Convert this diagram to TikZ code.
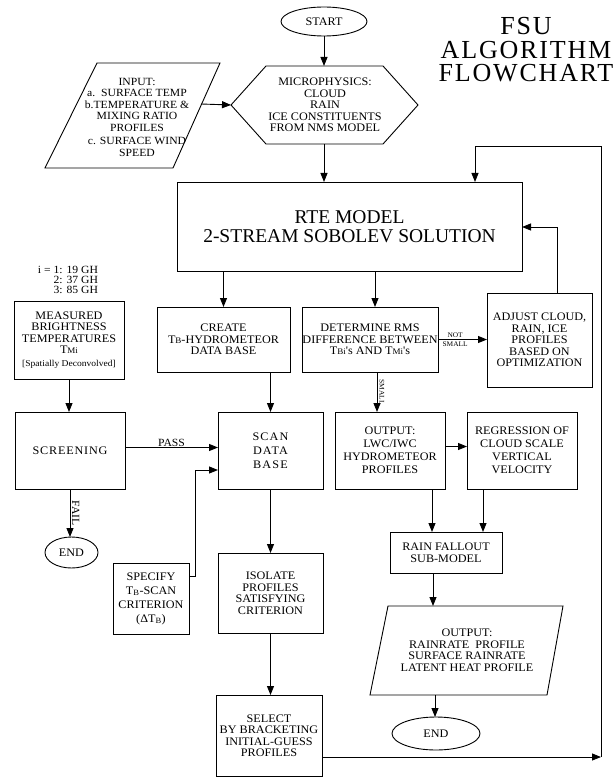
\documentclass[tikz,border=0pt]{standalone}
\usepackage{fontspec}
\setmainfont{Liberation Serif}
\newfontfamily\bxfont[FakeStretch=1.06]{Liberation Serif}
\usetikzlibrary{arrows.meta,shapes.geometric}
\begin{document}
\begin{tikzpicture}[x=1pt,y=-1pt,
  every node/.style={inner sep=0pt, outer sep=0pt},
  txt/.style={align=center, font=\bxfont\fontsize{11.5}{11.5}\selectfont},
  box/.style={txt, draw, line width=0.9pt},
  term/.style={txt, draw, ellipse, line width=0.9pt},
  ln/.style={line width=0.9pt},
  arr/.style={ln, -{Triangle[length=9pt,width=7pt]}},
  lab/.style={font=\bxfont\fontsize{11}{10}\selectfont},
  tinylab/.style={font=\bxfont\fontsize{7}{7}\selectfont}]
\useasboundingbox (0,0) rectangle (614,778);

% title
\node[align=center, font=\fontsize{26}{23.5}\selectfont\addfontfeature{LetterSpace=7}] (title) at (526,50) {FSU\\ALGORITHM\\FLOWCHART};

% start
\node[term, minimum width=86pt, minimum height=29pt] (start) at (324,21.5) {START};

% input parallelogram
\coordinate (inTL) at (97,63); \coordinate (inTR) at (220,63);
\coordinate (inBR) at (173,168); \coordinate (inBL) at (45,168);
\draw[ln] (inTL) -- (inTR) -- (inBR) -- (inBL) -- cycle;
\node[txt, font=\bxfont\fontsize{11}{11.5}\selectfont] (input) at (137,117) {INPUT:\\a.\ \ SURFACE TEMP\\b.TEMPERATURE \&\\MIXING RATIO\\PROFILES\\[2pt]c. SURFACE WIND\\SPEED};
\coordinate (inR) at (201,104);

% microphysics hexagon
\coordinate (hxL) at (231,105); \coordinate (hxR) at (418,105);
\coordinate (hxT) at (324,66); \coordinate (hxB) at (324,144);
\draw[ln] (hxL) -- (266,66) -- (383,66) -- (hxR) -- (383,144) -- (266,144) -- cycle;
\node[txt] (micro) at (325,105) {MICROPHYSICS:\\CLOUD\\RAIN\\ICE CONSTITUENTS\\FROM NMS MODEL};

% RTE
\node[box, minimum width=345pt, minimum height=89pt, font=\fontsize{19.5}{19}\selectfont] (rte) at (349.5,226.5) {RTE MODEL\\2-STREAM SOBOLEV SOLUTION};

% channel label
\node[lab, align=right, anchor=east] (chan) at (98,280) {i = 1: 19 GH\\2: 37 GH\\3: 85 GH};

% boxes
\node[box, minimum width=110pt, minimum height=78pt] (measured) at (69,340) {MEASURED\\BRIGHTNESS\\TEMPERATURES\\T{\fontsize{8.5}{8.5}\selectfont Mi}\\[1pt]{\fontsize{9}{9}\selectfont [Spatially Deconvolved]}};
\node[box, minimum width=133pt, minimum height=65pt] (create) at (223.5,339.5) {CREATE\\T{\fontsize{8.5}{8.5}\selectfont B}-HYDROMETEOR\\DATA BASE};
\node[box, minimum width=136pt, minimum height=65pt] (determine) at (370,339.5) {DETERMINE RMS\\DIFFERENCE BETWEEN\\T{\fontsize{8.5}{8.5}\selectfont Bi}'s AND T{\fontsize{8.5}{8.5}\selectfont Mi}'s};
\node[box, minimum width=105pt, minimum height=94pt] (adjust) at (539.5,340) {ADJUST CLOUD,\\RAIN, ICE\\PROFILES\\BASED ON\\OPTIMIZATION};
\node[box, minimum width=110pt, minimum height=77pt, font=\bxfont\fontsize{11.5}{11.5}\selectfont\addfontfeature{LetterSpace=7}] (screening) at (70,450.5) {SCREENING};
\node[box, minimum width=105pt, minimum height=77pt, font=\bxfont\fontsize{11.5}{14}\selectfont\addfontfeature{LetterSpace=10}] (scan) at (270.5,450.5) {SCAN\\DATA\\BASE};
\node[box, minimum width=110pt, minimum height=77pt, font=\bxfont\fontsize{11.5}{13}\selectfont] (outlwc) at (390,450.5) {OUTPUT:\\LWC/IWC\\HYDROMETEOR\\PROFILES};
\node[box, minimum width=110pt, minimum height=77pt, font=\bxfont\fontsize{11.5}{13}\selectfont] (regr) at (522,450.5) {REGRESSION OF\\CLOUD SCALE\\VERTICAL\\VELOCITY};
\node[box, minimum width=112pt, minimum height=41pt] (rain) at (446,552.5) {RAIN FALLOUT\\SUB-MODEL};
\node[term, minimum width=53pt, minimum height=31pt] (end1) at (71.5,552.5) {END};
\node[box, minimum width=76pt, minimum height=71pt, font=\bxfont\fontsize{11.5}{14}\selectfont] (specify) at (151,598.5) {SPECIFY\\T\textsubscript{B}-SCAN\\CRITERION\\(ΔT\textsubscript{B})};
\node[box, minimum width=105pt, minimum height=80pt] (isolate) at (270.5,593) {ISOLATE\\PROFILES\\SATISFYING\\CRITERION};
\node[box, minimum width=106pt, minimum height=81pt] (select) at (269,735.5) {SELECT\\BY BRACKETING\\INITIAL-GUESS\\PROFILES};

% output parallelogram
\coordinate (oTL) at (388,606); \coordinate (oTR) at (563,606);
\coordinate (oBR) at (547,695); \coordinate (oBL) at (370,695);
\draw[ln] (oTL) -- (oTR) -- (oBR) -- (oBL) -- cycle;
\node[txt] (outpara) at (467,650) {OUTPUT:\\RAINRATE\ \ PROFILE\\SURFACE RAINRATE\\LATENT HEAT PROFILE};
\coordinate (oT) at (433,606); \coordinate (oB) at (435,695);
\node[term, minimum width=88pt, minimum height=33pt] (end2) at (436,733.5) {END};

% connectors
\draw[arr] (start) -- (hxT);
\draw[arr] (inR) -- (hxL);
\draw[arr] (hxB) -- (hxB |- rte.north);
\draw[arr] (rte.south -| create) -- (create.north);
\draw[arr] ([xshift=5pt]determine.north |- rte.south) -- ([xshift=5pt]determine.north);
\draw[arr] (determine.east) -- (determine.east -| adjust.west)
  node[tinylab, pos=0.35, above=2pt] {NOT}
  node[tinylab, pos=0.35, below=2pt] {SMALL};
\coordinate (fb) at (557,227);
\draw[arr] (adjust.north -| fb) -- (fb) -- (fb -| rte.east);
\draw[arr] (measured.south) -- (measured.south |- screening.north);
\draw[arr] (screening.south) -- (screening.south |- end1.north)
  node[lab, midway, anchor=south, rotate=-90, inner sep=2pt] {FAIL};
\draw[arr] ([yshift=3pt]screening.east) -- ([yshift=3pt]screening.east -| scan.west)
  node[lab, midway, above=1pt] {PASS};
\draw[arr] (create.south -| scan) -- (scan.north);
\coordinate (spA) at (195,576); \coordinate (spB) at (195,470);
\draw[arr] (specify.east |- spA) -- (spA) -- (spB) -- (spB -| scan.west);
\draw[arr] (scan.south) -- (isolate.north);
\draw[arr] (isolate.south) -- (isolate.south |- select.north);
\draw[arr] ([xshift=7pt]determine.south) -- ([xshift=7pt]determine.south |- outlwc.north)
  node[tinylab, midway, anchor=south, rotate=-90, inner sep=2.5pt] {SMALL};
\draw[arr] ([yshift=4pt]outlwc.east) -- ([yshift=4pt]outlwc.east -| regr.west);
\draw[arr] ([xshift=-14pt]rain.north |- outlwc.south) -- ([xshift=-14pt]rain.north);
\draw[arr] ([xshift=37pt]rain.north |- regr.south) -- ([xshift=37pt]rain.north);
\draw[arr] (oT |- rain.south) -- (oT);
\draw[arr] (oB) -- (oB |- end2.north);
\coordinate (loopC) at (601,757); \coordinate (loopT) at (601,146);
\coordinate (rteIn) at (475,146);
\draw[arr] (select.east |- loopC) -- (loopC);
\draw[arr] (loopC) -- (loopT) -- (rteIn) -- (rteIn |- rte.north);
\end{tikzpicture}
\end{document}
